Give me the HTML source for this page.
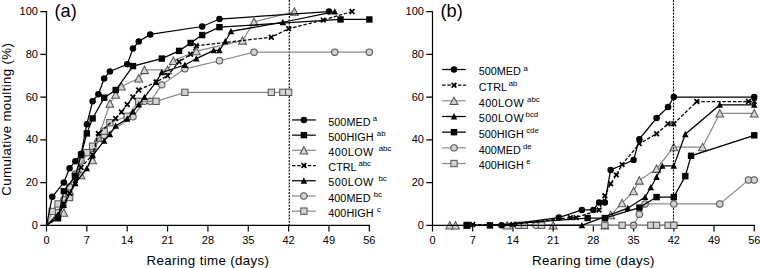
<!DOCTYPE html>
<html lang="en">
<head>
<meta charset="utf-8">
<title>Cumulative moulting</title>
<style>
html,body{margin:0;padding:0;background:#fff;}
body{width:760px;height:268px;overflow:hidden;}
svg{display:block;}
text{font-family:"Liberation Sans", Arial, Helvetica, sans-serif;fill:#000;font-kerning:none;}
.tk{font-size:11px;}
.ax{font-size:13.3px;letter-spacing:0.35px;}
.pl{font-size:18.2px;}
.lg{font-size:10.85px;}
.sp{font-size:7.8px;}
</style>
</head>
<body>
<svg width="760" height="268" viewBox="0 0 760 268">
<rect width="760" height="268" fill="#fff"/>
<polyline fill="none" stroke="#8a8a8a" stroke-width="1.2" points="46.5,225.3 63.8,212.48 69.56,191.1 81.09,175.07 92.62,160.11 98.38,137.66 109.91,103.46 115.68,94.48 121.44,86.36 138.74,78.24 144.5,69.9 167.56,69.9 173.33,60.71 196.39,51.09 242.51,40.62 254.04,21.81 294.39,11.55"/>
<path d="M63.8 208.78L67.7 216.18L59.9 216.18Z" fill="#d2d2d2" stroke="#565656" stroke-width="1.05" stroke-linejoin="miter"/>
<path d="M69.56 187.4L73.46 194.8L65.66 194.8Z" fill="#d2d2d2" stroke="#565656" stroke-width="1.05" stroke-linejoin="miter"/>
<path d="M81.09 171.37L84.99 178.77L77.19 178.77Z" fill="#d2d2d2" stroke="#565656" stroke-width="1.05" stroke-linejoin="miter"/>
<path d="M92.62 156.41L96.52 163.81L88.72 163.81Z" fill="#d2d2d2" stroke="#565656" stroke-width="1.05" stroke-linejoin="miter"/>
<path d="M98.38 133.96L102.28 141.36L94.48 141.36Z" fill="#d2d2d2" stroke="#565656" stroke-width="1.05" stroke-linejoin="miter"/>
<path d="M109.91 99.76L113.81 107.16L106.01 107.16Z" fill="#d2d2d2" stroke="#565656" stroke-width="1.05" stroke-linejoin="miter"/>
<path d="M115.68 90.78L119.58 98.18L111.78 98.18Z" fill="#d2d2d2" stroke="#565656" stroke-width="1.05" stroke-linejoin="miter"/>
<path d="M121.44 82.66L125.34 90.06L117.54 90.06Z" fill="#d2d2d2" stroke="#565656" stroke-width="1.05" stroke-linejoin="miter"/>
<path d="M138.74 74.54L142.64 81.94L134.84 81.94Z" fill="#d2d2d2" stroke="#565656" stroke-width="1.05" stroke-linejoin="miter"/>
<path d="M144.5 66.2L148.41 73.6L140.6 73.6Z" fill="#d2d2d2" stroke="#565656" stroke-width="1.05" stroke-linejoin="miter"/>
<path d="M167.56 66.2L171.47 73.6L163.66 73.6Z" fill="#d2d2d2" stroke="#565656" stroke-width="1.05" stroke-linejoin="miter"/>
<path d="M173.33 57.01L177.23 64.41L169.43 64.41Z" fill="#d2d2d2" stroke="#565656" stroke-width="1.05" stroke-linejoin="miter"/>
<path d="M196.39 47.39L200.29 54.79L192.49 54.79Z" fill="#d2d2d2" stroke="#565656" stroke-width="1.05" stroke-linejoin="miter"/>
<path d="M242.51 36.92L246.41 44.32L238.61 44.32Z" fill="#d2d2d2" stroke="#565656" stroke-width="1.05" stroke-linejoin="miter"/>
<path d="M254.04 18.11L257.94 25.51L250.14 25.51Z" fill="#d2d2d2" stroke="#565656" stroke-width="1.05" stroke-linejoin="miter"/>
<path d="M294.39 7.85L298.29 15.25L290.5 15.25Z" fill="#d2d2d2" stroke="#565656" stroke-width="1.05" stroke-linejoin="miter"/>
<path d="M46.5 10.95V225.3H369.94" fill="none" stroke="#000" stroke-width="1.2"/>
<text x="37.9" y="228.9" text-anchor="end" class="tk">0</text>
<text x="37.9" y="186.15" text-anchor="end" class="tk">20</text>
<text x="37.9" y="143.4" text-anchor="end" class="tk">40</text>
<text x="37.9" y="100.65" text-anchor="end" class="tk">60</text>
<text x="37.9" y="57.9" text-anchor="end" class="tk">80</text>
<text x="37.9" y="15.15" text-anchor="end" class="tk">100</text>
<text x="46.5" y="243.9" text-anchor="middle" class="tk">0</text>
<text x="86.85" y="243.9" text-anchor="middle" class="tk">7</text>
<text x="127.21" y="243.9" text-anchor="middle" class="tk">14</text>
<text x="167.56" y="243.9" text-anchor="middle" class="tk">21</text>
<text x="207.92" y="243.9" text-anchor="middle" class="tk">28</text>
<text x="248.27" y="243.9" text-anchor="middle" class="tk">35</text>
<text x="288.63" y="243.9" text-anchor="middle" class="tk">42</text>
<text x="328.98" y="243.9" text-anchor="middle" class="tk">49</text>
<text x="369.34" y="243.9" text-anchor="middle" class="tk">56</text>
<path d="M40.3 225.3H46.5M40.3 182.55H46.5M40.3 139.8H46.5M40.3 97.05H46.5M40.3 54.3H46.5M40.3 11.55H46.5M46.5 225.3V231.5M86.85 225.3V231.5M127.21 225.3V231.5M167.56 225.3V231.5M207.92 225.3V231.5M248.27 225.3V231.5M288.63 225.3V231.5M328.98 225.3V231.5M369.34 225.3V231.5" stroke="#000" stroke-width="1.2" fill="none"/>
<path d="M289.28 0V225.3" stroke="#000" stroke-width="1.15" stroke-dasharray="2 1.2" fill="none"/>
<text x="207.92" y="265" text-anchor="middle" class="ax">Rearing time (days)</text>
<text x="54.5" y="17.2" class="pl">(a)</text>
<text transform="translate(10.5 119.2) rotate(-90)" text-anchor="middle" class="ax">Cumulative moulting (%)</text>
<polyline fill="none" stroke="#8a8a8a" stroke-width="1.2" points="46.5,225.3 58.03,212.48 63.8,199.65 69.56,186.83 75.33,174 81.09,161.18 92.62,148.35 104.15,135.53 132.97,116.72 144.5,101.33 150.27,101.33 161.8,84.87 184.86,68.83 219.45,60.71 254.04,52.16 334.75,52.16 369.34,52.16"/>
<circle cx="58.03" cy="212.48" r="3.2" fill="#d2d2d2" stroke="#565656" stroke-width="1.05"/>
<circle cx="63.8" cy="199.65" r="3.2" fill="#d2d2d2" stroke="#565656" stroke-width="1.05"/>
<circle cx="69.56" cy="186.83" r="3.2" fill="#d2d2d2" stroke="#565656" stroke-width="1.05"/>
<circle cx="75.33" cy="174" r="3.2" fill="#d2d2d2" stroke="#565656" stroke-width="1.05"/>
<circle cx="81.09" cy="161.18" r="3.2" fill="#d2d2d2" stroke="#565656" stroke-width="1.05"/>
<circle cx="92.62" cy="148.35" r="3.2" fill="#d2d2d2" stroke="#565656" stroke-width="1.05"/>
<circle cx="104.15" cy="135.53" r="3.2" fill="#d2d2d2" stroke="#565656" stroke-width="1.05"/>
<circle cx="132.97" cy="116.72" r="3.2" fill="#d2d2d2" stroke="#565656" stroke-width="1.05"/>
<circle cx="144.5" cy="101.33" r="3.2" fill="#d2d2d2" stroke="#565656" stroke-width="1.05"/>
<circle cx="150.27" cy="101.33" r="3.2" fill="#d2d2d2" stroke="#565656" stroke-width="1.05"/>
<circle cx="161.8" cy="84.87" r="3.2" fill="#d2d2d2" stroke="#565656" stroke-width="1.05"/>
<circle cx="184.86" cy="68.83" r="3.2" fill="#d2d2d2" stroke="#565656" stroke-width="1.05"/>
<circle cx="219.45" cy="60.71" r="3.2" fill="#d2d2d2" stroke="#565656" stroke-width="1.05"/>
<circle cx="254.04" cy="52.16" r="3.2" fill="#d2d2d2" stroke="#565656" stroke-width="1.05"/>
<circle cx="334.75" cy="52.16" r="3.2" fill="#d2d2d2" stroke="#565656" stroke-width="1.05"/>
<circle cx="369.34" cy="52.16" r="3.2" fill="#d2d2d2" stroke="#565656" stroke-width="1.05"/>
<polyline fill="none" stroke="#8a8a8a" stroke-width="1.2" points="46.5,225.3 52.27,211.41 58.03,203.93 69.56,197.51 75.33,176.14 86.85,152.62 92.62,146.21 104.15,131.25 109.91,122.7 127.21,116.29 138.74,101.33 156.03,101.33 184.86,92.35 271.33,92.35 282.87,92.35 288.63,92.35"/>
<rect x="49.12" y="208.26" width="6.3" height="6.3" fill="#d2d2d2" stroke="#565656" stroke-width="1.05"/>
<rect x="54.88" y="200.78" width="6.3" height="6.3" fill="#d2d2d2" stroke="#565656" stroke-width="1.05"/>
<rect x="66.41" y="194.36" width="6.3" height="6.3" fill="#d2d2d2" stroke="#565656" stroke-width="1.05"/>
<rect x="72.17" y="172.99" width="6.3" height="6.3" fill="#d2d2d2" stroke="#565656" stroke-width="1.05"/>
<rect x="83.7" y="149.47" width="6.3" height="6.3" fill="#d2d2d2" stroke="#565656" stroke-width="1.05"/>
<rect x="89.47" y="143.06" width="6.3" height="6.3" fill="#d2d2d2" stroke="#565656" stroke-width="1.05"/>
<rect x="101" y="128.1" width="6.3" height="6.3" fill="#d2d2d2" stroke="#565656" stroke-width="1.05"/>
<rect x="106.76" y="119.55" width="6.3" height="6.3" fill="#d2d2d2" stroke="#565656" stroke-width="1.05"/>
<rect x="124.06" y="113.14" width="6.3" height="6.3" fill="#d2d2d2" stroke="#565656" stroke-width="1.05"/>
<rect x="135.59" y="98.17" width="6.3" height="6.3" fill="#d2d2d2" stroke="#565656" stroke-width="1.05"/>
<rect x="152.88" y="98.17" width="6.3" height="6.3" fill="#d2d2d2" stroke="#565656" stroke-width="1.05"/>
<rect x="181.71" y="89.2" width="6.3" height="6.3" fill="#d2d2d2" stroke="#565656" stroke-width="1.05"/>
<rect x="268.19" y="89.2" width="6.3" height="6.3" fill="#d2d2d2" stroke="#565656" stroke-width="1.05"/>
<rect x="279.72" y="89.2" width="6.3" height="6.3" fill="#d2d2d2" stroke="#565656" stroke-width="1.05"/>
<rect x="285.48" y="89.2" width="6.3" height="6.3" fill="#d2d2d2" stroke="#565656" stroke-width="1.05"/>
<polyline fill="none" stroke="#000" stroke-width="1.25" stroke-dasharray="3.5 1.75" points="46.5,225.3 58.03,216.75 63.8,203.93 69.56,193.24 75.33,180.41 81.09,167.59 92.62,154.76 98.38,133.39 115.68,118.42 121.44,112.01 127.21,104.53 132.97,97.05 138.74,90 156.03,82.09 167.56,75.68 179.09,61.78 190.62,54.3 196.39,45.75 271.33,37.2 288.63,28.65 323.22,20.1 352.04,11.55"/>
<path d="M55.68 214.4L60.38 219.1M55.68 219.1L60.38 214.4" stroke="#000" stroke-width="1.75" fill="none"/>
<path d="M61.45 201.58L66.14 206.28M61.45 206.28L66.14 201.58" stroke="#000" stroke-width="1.75" fill="none"/>
<path d="M67.21 190.89L71.91 195.59M67.21 195.59L71.91 190.89" stroke="#000" stroke-width="1.75" fill="none"/>
<path d="M72.98 178.06L77.67 182.76M72.98 182.76L77.67 178.06" stroke="#000" stroke-width="1.75" fill="none"/>
<path d="M78.74 165.24L83.44 169.94M78.74 169.94L83.44 165.24" stroke="#000" stroke-width="1.75" fill="none"/>
<path d="M90.27 152.41L94.97 157.11M90.27 157.11L94.97 152.41" stroke="#000" stroke-width="1.75" fill="none"/>
<path d="M96.03 131.04L100.73 135.74M96.03 135.74L100.73 131.04" stroke="#000" stroke-width="1.75" fill="none"/>
<path d="M113.33 116.08L118.03 120.77M113.33 120.77L118.03 116.08" stroke="#000" stroke-width="1.75" fill="none"/>
<path d="M119.09 109.66L123.79 114.36M119.09 114.36L123.79 109.66" stroke="#000" stroke-width="1.75" fill="none"/>
<path d="M124.86 102.18L129.56 106.88M124.86 106.88L129.56 102.18" stroke="#000" stroke-width="1.75" fill="none"/>
<path d="M130.62 94.7L135.32 99.4M130.62 99.4L135.32 94.7" stroke="#000" stroke-width="1.75" fill="none"/>
<path d="M136.39 87.65L141.09 92.35M136.39 92.35L141.09 87.65" stroke="#000" stroke-width="1.75" fill="none"/>
<path d="M153.69 79.74L158.38 84.44M153.69 84.44L158.38 79.74" stroke="#000" stroke-width="1.75" fill="none"/>
<path d="M165.22 73.33L169.91 78.03M165.22 78.03L169.91 73.33" stroke="#000" stroke-width="1.75" fill="none"/>
<path d="M176.75 59.43L181.44 64.13M176.75 64.13L181.44 59.43" stroke="#000" stroke-width="1.75" fill="none"/>
<path d="M188.28 51.95L192.97 56.65M188.28 56.65L192.97 51.95" stroke="#000" stroke-width="1.75" fill="none"/>
<path d="M194.04 43.4L198.74 48.1M194.04 48.1L198.74 43.4" stroke="#000" stroke-width="1.75" fill="none"/>
<path d="M268.98 34.85L273.69 39.55M268.98 39.55L273.69 34.85" stroke="#000" stroke-width="1.75" fill="none"/>
<path d="M286.28 26.3L290.98 31M286.28 31L290.98 26.3" stroke="#000" stroke-width="1.75" fill="none"/>
<path d="M320.87 17.75L325.57 22.45M320.87 22.45L325.57 17.75" stroke="#000" stroke-width="1.75" fill="none"/>
<path d="M349.69 9.2L354.39 13.9M349.69 13.9L354.39 9.2" stroke="#000" stroke-width="1.75" fill="none"/>
<polyline fill="none" stroke="#000" stroke-width="1.25" points="46.5,225.3 58.03,218.25 63.8,191.1 75.33,176.14 81.09,154.76 86.85,133.39 92.62,118.42 104.15,97.69 115.68,90 132.97,66.06 161.8,58.57 179.09,50.88 190.62,42.97 202.16,35.06 219.45,27.15 340.51,19.46 369.34,19.46"/>
<rect x="54.83" y="215.05" width="6.4" height="6.4" fill="#000"/>
<rect x="60.59" y="187.9" width="6.4" height="6.4" fill="#000"/>
<rect x="72.12" y="172.94" width="6.4" height="6.4" fill="#000"/>
<rect x="77.89" y="151.56" width="6.4" height="6.4" fill="#000"/>
<rect x="83.65" y="130.19" width="6.4" height="6.4" fill="#000"/>
<rect x="89.42" y="115.22" width="6.4" height="6.4" fill="#000"/>
<rect x="100.95" y="94.49" width="6.4" height="6.4" fill="#000"/>
<rect x="112.48" y="86.8" width="6.4" height="6.4" fill="#000"/>
<rect x="129.78" y="62.86" width="6.4" height="6.4" fill="#000"/>
<rect x="158.6" y="55.37" width="6.4" height="6.4" fill="#000"/>
<rect x="175.9" y="47.68" width="6.4" height="6.4" fill="#000"/>
<rect x="187.43" y="39.77" width="6.4" height="6.4" fill="#000"/>
<rect x="198.96" y="31.86" width="6.4" height="6.4" fill="#000"/>
<rect x="216.25" y="23.95" width="6.4" height="6.4" fill="#000"/>
<rect x="337.31" y="16.26" width="6.4" height="6.4" fill="#000"/>
<rect x="366.14" y="16.26" width="6.4" height="6.4" fill="#000"/>
<polyline fill="none" stroke="#000" stroke-width="1.25" points="46.5,225.3 58.03,214.61 63.8,204.99 75.33,183.41 86.85,168.44 92.62,155.62 104.15,140.87 109.91,134.24 115.68,125.91 127.21,118.85 132.97,111.58 138.74,104.53 144.5,97.05 156.03,82.09 161.8,72.47 184.86,64.99 196.39,58.57 213.69,50.45 219.45,50.45 225.22,41.47 230.98,31.43 282.87,22.24 334.75,11.55"/>
<path d="M58.03 211.21L61.28 217.51L54.78 217.51Z" fill="#000"/>
<path d="M63.8 201.59L67.05 207.89L60.55 207.89Z" fill="#000"/>
<path d="M75.33 180L78.58 186.31L72.08 186.31Z" fill="#000"/>
<path d="M86.85 165.04L90.1 171.34L83.6 171.34Z" fill="#000"/>
<path d="M92.62 152.22L95.87 158.52L89.37 158.52Z" fill="#000"/>
<path d="M104.15 137.47L107.4 143.77L100.9 143.77Z" fill="#000"/>
<path d="M109.91 130.84L113.16 137.14L106.66 137.14Z" fill="#000"/>
<path d="M115.68 122.51L118.93 128.81L112.43 128.81Z" fill="#000"/>
<path d="M127.21 115.45L130.46 121.75L123.96 121.75Z" fill="#000"/>
<path d="M132.97 108.18L136.22 114.48L129.72 114.48Z" fill="#000"/>
<path d="M138.74 101.13L141.99 107.43L135.49 107.43Z" fill="#000"/>
<path d="M144.5 93.65L147.75 99.95L141.25 99.95Z" fill="#000"/>
<path d="M156.03 78.69L159.28 84.99L152.78 84.99Z" fill="#000"/>
<path d="M161.8 69.07L165.05 75.37L158.55 75.37Z" fill="#000"/>
<path d="M184.86 61.59L188.11 67.89L181.61 67.89Z" fill="#000"/>
<path d="M196.39 55.17L199.64 61.47L193.14 61.47Z" fill="#000"/>
<path d="M213.69 47.05L216.94 53.35L210.44 53.35Z" fill="#000"/>
<path d="M219.45 47.05L222.7 53.35L216.2 53.35Z" fill="#000"/>
<path d="M225.22 38.07L228.47 44.37L221.97 44.37Z" fill="#000"/>
<path d="M230.98 28.03L234.23 34.33L227.73 34.33Z" fill="#000"/>
<path d="M282.87 18.84L286.12 25.14L279.62 25.14Z" fill="#000"/>
<path d="M334.75 8.15L338 14.45L331.5 14.45Z" fill="#000"/>
<polyline fill="none" stroke="#000" stroke-width="1.25" points="46.5,225.3 52.27,196.87 63.8,182.55 69.56,168.23 75.33,161.18 81.09,154.12 86.85,124.2 92.62,101.33 98.38,94.27 104.15,78.45 109.91,71.4 127.21,64.35 132.97,48.53 138.74,41.47 150.27,34.42 202.16,26.51 219.45,19.03 328.98,11.55"/>
<circle cx="52.27" cy="196.87" r="3.25" fill="#000"/>
<circle cx="63.8" cy="182.55" r="3.25" fill="#000"/>
<circle cx="69.56" cy="168.23" r="3.25" fill="#000"/>
<circle cx="75.33" cy="161.18" r="3.25" fill="#000"/>
<circle cx="81.09" cy="154.12" r="3.25" fill="#000"/>
<circle cx="86.85" cy="124.2" r="3.25" fill="#000"/>
<circle cx="92.62" cy="101.33" r="3.25" fill="#000"/>
<circle cx="98.38" cy="94.27" r="3.25" fill="#000"/>
<circle cx="104.15" cy="78.45" r="3.25" fill="#000"/>
<circle cx="109.91" cy="71.4" r="3.25" fill="#000"/>
<circle cx="127.21" cy="64.35" r="3.25" fill="#000"/>
<circle cx="132.97" cy="48.53" r="3.25" fill="#000"/>
<circle cx="138.74" cy="41.47" r="3.25" fill="#000"/>
<circle cx="150.27" cy="34.42" r="3.25" fill="#000"/>
<circle cx="202.16" cy="26.51" r="3.25" fill="#000"/>
<circle cx="219.45" cy="19.03" r="3.25" fill="#000"/>
<circle cx="328.98" cy="11.55" r="3.25" fill="#000"/>
<path d="M292 119.95H315.8" stroke="#000" stroke-width="1.25" fill="none"/>
<circle cx="303.9" cy="119.95" r="3.25" fill="#000"/>
<text x="328.3" y="125.65" class="lg">500MED</text>
<text x="372.7" y="121.25" class="sp">a</text>
<path d="M292 135.15H315.8" stroke="#000" stroke-width="1.25" fill="none"/>
<rect x="300.7" y="131.95" width="6.4" height="6.4" fill="#000"/>
<text x="328.3" y="140.85" class="lg">500HIGH</text>
<text x="376.8" y="135.85" class="sp">ab</text>
<path d="M292 150.35H315.8" stroke="#8a8a8a" stroke-width="1.2" fill="none"/>
<path d="M303.9 146.65L307.8 154.05L300 154.05Z" fill="#d2d2d2" stroke="#565656" stroke-width="1.05" stroke-linejoin="miter"/>
<text x="328.3" y="156.05" class="lg" letter-spacing="0.43">400LOW</text>
<text x="378.7" y="151.05" class="sp">abc</text>
<path d="M292 165.55H315.8" stroke="#000" stroke-width="1.25" stroke-dasharray="3.5 1.75" fill="none"/>
<path d="M301.55 163.2L306.25 167.9M301.55 167.9L306.25 163.2" stroke="#000" stroke-width="1.75" fill="none"/>
<text x="328.3" y="171.25" class="lg">CTRL</text>
<text x="358.4" y="166.25" class="sp">abc</text>
<path d="M292 180.75H315.8" stroke="#000" stroke-width="1.25" fill="none"/>
<path d="M303.9 177.35L307.15 183.65L300.65 183.65Z" fill="#000"/>
<text x="328.3" y="186.45" class="lg" letter-spacing="0.43">500LOW</text>
<text x="378.4" y="181.45" class="sp">bc</text>
<path d="M292 195.95H315.8" stroke="#8a8a8a" stroke-width="1.2" fill="none"/>
<circle cx="303.9" cy="195.95" r="3.2" fill="#d2d2d2" stroke="#565656" stroke-width="1.05"/>
<text x="328.3" y="201.65" class="lg">400MED</text>
<text x="373.7" y="196.65" class="sp">bc</text>
<path d="M292 211.15H315.8" stroke="#8a8a8a" stroke-width="1.2" fill="none"/>
<rect x="300.75" y="208" width="6.3" height="6.3" fill="#d2d2d2" stroke="#565656" stroke-width="1.05"/>
<text x="328.3" y="216.85" class="lg">400HIGH</text>
<text x="377.1" y="211.85" class="sp">c</text>
<polyline fill="none" stroke="#8a8a8a" stroke-width="1.2" points="449.74,225.3 455.48,225.3 507.19,225.3 553.16,225.3 604.87,225.3 610.61,215.04 622.1,203.07 633.59,191.1 639.34,180.41 656.57,168.66 673.81,147.07 702.54,147.07 719.77,113.3 754.25,113.3"/>
<path d="M449.74 221.6L453.64 229L445.84 229Z" fill="#d2d2d2" stroke="#565656" stroke-width="1.05" stroke-linejoin="miter"/>
<path d="M455.48 221.6L459.38 229L451.58 229Z" fill="#d2d2d2" stroke="#565656" stroke-width="1.05" stroke-linejoin="miter"/>
<path d="M507.19 221.6L511.09 229L503.29 229Z" fill="#d2d2d2" stroke="#565656" stroke-width="1.05" stroke-linejoin="miter"/>
<path d="M553.16 221.6L557.06 229L549.26 229Z" fill="#d2d2d2" stroke="#565656" stroke-width="1.05" stroke-linejoin="miter"/>
<path d="M604.87 221.6L608.76 229L600.97 229Z" fill="#d2d2d2" stroke="#565656" stroke-width="1.05" stroke-linejoin="miter"/>
<path d="M610.61 211.34L614.51 218.74L606.71 218.74Z" fill="#d2d2d2" stroke="#565656" stroke-width="1.05" stroke-linejoin="miter"/>
<path d="M622.1 199.37L626 206.77L618.2 206.77Z" fill="#d2d2d2" stroke="#565656" stroke-width="1.05" stroke-linejoin="miter"/>
<path d="M633.59 187.4L637.49 194.8L629.69 194.8Z" fill="#d2d2d2" stroke="#565656" stroke-width="1.05" stroke-linejoin="miter"/>
<path d="M639.34 176.71L643.24 184.11L635.44 184.11Z" fill="#d2d2d2" stroke="#565656" stroke-width="1.05" stroke-linejoin="miter"/>
<path d="M656.57 164.96L660.47 172.36L652.67 172.36Z" fill="#d2d2d2" stroke="#565656" stroke-width="1.05" stroke-linejoin="miter"/>
<path d="M673.81 143.37L677.71 150.77L669.91 150.77Z" fill="#d2d2d2" stroke="#565656" stroke-width="1.05" stroke-linejoin="miter"/>
<path d="M702.54 143.37L706.44 150.77L698.64 150.77Z" fill="#d2d2d2" stroke="#565656" stroke-width="1.05" stroke-linejoin="miter"/>
<path d="M719.77 109.59L723.67 117L715.88 117Z" fill="#d2d2d2" stroke="#565656" stroke-width="1.05" stroke-linejoin="miter"/>
<path d="M754.25 109.59L758.15 117L750.35 117Z" fill="#d2d2d2" stroke="#565656" stroke-width="1.05" stroke-linejoin="miter"/>
<path d="M432.5 10.95V225.3H754.85" fill="none" stroke="#000" stroke-width="1.2"/>
<text x="423.9" y="228.9" text-anchor="end" class="tk">0</text>
<text x="423.9" y="186.15" text-anchor="end" class="tk">20</text>
<text x="423.9" y="143.4" text-anchor="end" class="tk">40</text>
<text x="423.9" y="100.65" text-anchor="end" class="tk">60</text>
<text x="423.9" y="57.9" text-anchor="end" class="tk">80</text>
<text x="423.9" y="15.15" text-anchor="end" class="tk">100</text>
<text x="432.5" y="243.9" text-anchor="middle" class="tk">0</text>
<text x="472.72" y="243.9" text-anchor="middle" class="tk">7</text>
<text x="512.94" y="243.9" text-anchor="middle" class="tk">14</text>
<text x="553.16" y="243.9" text-anchor="middle" class="tk">21</text>
<text x="593.37" y="243.9" text-anchor="middle" class="tk">28</text>
<text x="633.59" y="243.9" text-anchor="middle" class="tk">35</text>
<text x="673.81" y="243.9" text-anchor="middle" class="tk">42</text>
<text x="714.03" y="243.9" text-anchor="middle" class="tk">49</text>
<text x="754.25" y="243.9" text-anchor="middle" class="tk">56</text>
<path d="M426.3 225.3H432.5M426.3 182.55H432.5M426.3 139.8H432.5M426.3 97.05H432.5M426.3 54.3H432.5M426.3 11.55H432.5M432.5 225.3V231.5M472.72 225.3V231.5M512.94 225.3V231.5M553.16 225.3V231.5M593.37 225.3V231.5M633.59 225.3V231.5M673.81 225.3V231.5M714.03 225.3V231.5M754.25 225.3V231.5" stroke="#000" stroke-width="1.2" fill="none"/>
<path d="M673.51 0V225.3" stroke="#000" stroke-width="1.15" stroke-dasharray="2 1.2" fill="none"/>
<text x="593.37" y="265" text-anchor="middle" class="ax">Rearing time (days)</text>
<text x="440.5" y="17.2" class="pl">(b)</text>
<polyline fill="none" stroke="#8a8a8a" stroke-width="1.2" points="535.92,225.3 633.59,225.3 639.34,214.19 645.08,203.93 673.81,203.93 719.77,203.93 748.5,179.99 754.25,179.99"/>
<circle cx="535.92" cy="225.3" r="3.2" fill="#d2d2d2" stroke="#565656" stroke-width="1.05"/>
<circle cx="633.59" cy="225.3" r="3.2" fill="#d2d2d2" stroke="#565656" stroke-width="1.05"/>
<circle cx="639.34" cy="214.19" r="3.2" fill="#d2d2d2" stroke="#565656" stroke-width="1.05"/>
<circle cx="645.08" cy="203.93" r="3.2" fill="#d2d2d2" stroke="#565656" stroke-width="1.05"/>
<circle cx="673.81" cy="203.93" r="3.2" fill="#d2d2d2" stroke="#565656" stroke-width="1.05"/>
<circle cx="719.77" cy="203.93" r="3.2" fill="#d2d2d2" stroke="#565656" stroke-width="1.05"/>
<circle cx="748.5" cy="179.99" r="3.2" fill="#d2d2d2" stroke="#565656" stroke-width="1.05"/>
<circle cx="754.25" cy="179.99" r="3.2" fill="#d2d2d2" stroke="#565656" stroke-width="1.05"/>
<polyline fill="none" stroke="#8a8a8a" stroke-width="1.2" points="466.97,225.3 518.68,225.3 524.43,225.3 541.66,225.3 604.87,225.3 622.1,225.3 650.83,225.3 656.57,225.3 668.07,225.3 673.81,225.3"/>
<rect x="463.82" y="222.15" width="6.3" height="6.3" fill="#d2d2d2" stroke="#565656" stroke-width="1.05"/>
<rect x="515.53" y="222.15" width="6.3" height="6.3" fill="#d2d2d2" stroke="#565656" stroke-width="1.05"/>
<rect x="521.28" y="222.15" width="6.3" height="6.3" fill="#d2d2d2" stroke="#565656" stroke-width="1.05"/>
<rect x="538.51" y="222.15" width="6.3" height="6.3" fill="#d2d2d2" stroke="#565656" stroke-width="1.05"/>
<rect x="601.72" y="222.15" width="6.3" height="6.3" fill="#d2d2d2" stroke="#565656" stroke-width="1.05"/>
<rect x="618.95" y="222.15" width="6.3" height="6.3" fill="#d2d2d2" stroke="#565656" stroke-width="1.05"/>
<rect x="647.68" y="222.15" width="6.3" height="6.3" fill="#d2d2d2" stroke="#565656" stroke-width="1.05"/>
<rect x="653.42" y="222.15" width="6.3" height="6.3" fill="#d2d2d2" stroke="#565656" stroke-width="1.05"/>
<rect x="664.92" y="222.15" width="6.3" height="6.3" fill="#d2d2d2" stroke="#565656" stroke-width="1.05"/>
<rect x="670.66" y="222.15" width="6.3" height="6.3" fill="#d2d2d2" stroke="#565656" stroke-width="1.05"/>
<polyline fill="none" stroke="#000" stroke-width="1.25" stroke-dasharray="3.5 1.75" points="472.72,224.55 512.94,224.55 570.39,217.61 576.14,217.61 599.12,209.91 604.87,195.8 610.61,183.83 616.36,174.86 622.1,164.59 639.34,143.65 656.57,133.81 668.07,123.77 673.81,123.77 696.79,101.54 748.5,101.54 754.25,101.54"/>
<path d="M470.37 222.2L475.07 226.9M470.37 226.9L475.07 222.2" stroke="#000" stroke-width="1.75" fill="none"/>
<path d="M510.59 222.2L515.29 226.9M510.59 226.9L515.29 222.2" stroke="#000" stroke-width="1.75" fill="none"/>
<path d="M568.04 215.26L572.74 219.96M568.04 219.96L572.74 215.26" stroke="#000" stroke-width="1.75" fill="none"/>
<path d="M573.79 215.26L578.49 219.96M573.79 219.96L578.49 215.26" stroke="#000" stroke-width="1.75" fill="none"/>
<path d="M596.77 207.56L601.47 212.26M596.77 212.26L601.47 207.56" stroke="#000" stroke-width="1.75" fill="none"/>
<path d="M602.51 193.45L607.22 198.15M602.51 198.15L607.22 193.45" stroke="#000" stroke-width="1.75" fill="none"/>
<path d="M608.26 181.48L612.96 186.18M608.26 186.18L612.96 181.48" stroke="#000" stroke-width="1.75" fill="none"/>
<path d="M614.01 172.51L618.71 177.21M614.01 177.21L618.71 172.51" stroke="#000" stroke-width="1.75" fill="none"/>
<path d="M619.75 162.25L624.45 166.94M619.75 166.94L624.45 162.25" stroke="#000" stroke-width="1.75" fill="none"/>
<path d="M636.99 141.3L641.69 146M636.99 146L641.69 141.3" stroke="#000" stroke-width="1.75" fill="none"/>
<path d="M654.22 131.47L658.92 136.16M654.22 136.16L658.92 131.47" stroke="#000" stroke-width="1.75" fill="none"/>
<path d="M665.72 121.42L670.42 126.12M665.72 126.12L670.42 121.42" stroke="#000" stroke-width="1.75" fill="none"/>
<path d="M671.46 121.42L676.16 126.12M671.46 126.12L676.16 121.42" stroke="#000" stroke-width="1.75" fill="none"/>
<path d="M694.44 99.19L699.14 103.89M694.44 103.89L699.14 99.19" stroke="#000" stroke-width="1.75" fill="none"/>
<path d="M746.15 99.19L750.85 103.89M746.15 103.89L750.85 99.19" stroke="#000" stroke-width="1.75" fill="none"/>
<path d="M751.9 99.19L756.6 103.89M751.9 103.89L756.6 99.19" stroke="#000" stroke-width="1.75" fill="none"/>
<polyline fill="none" stroke="#000" stroke-width="1.25" points="466.97,225.3 489.95,225.3 587.63,218.03 604.87,218.03 639.34,207.56 656.57,197.09 673.81,197.09 685.3,176.14 691.05,155.83 754.25,135.31"/>
<rect x="463.77" y="222.1" width="6.4" height="6.4" fill="#000"/>
<rect x="486.75" y="222.1" width="6.4" height="6.4" fill="#000"/>
<rect x="584.43" y="214.83" width="6.4" height="6.4" fill="#000"/>
<rect x="601.66" y="214.83" width="6.4" height="6.4" fill="#000"/>
<rect x="636.14" y="204.36" width="6.4" height="6.4" fill="#000"/>
<rect x="653.37" y="193.89" width="6.4" height="6.4" fill="#000"/>
<rect x="670.61" y="193.89" width="6.4" height="6.4" fill="#000"/>
<rect x="682.1" y="172.94" width="6.4" height="6.4" fill="#000"/>
<rect x="687.85" y="152.63" width="6.4" height="6.4" fill="#000"/>
<rect x="751.05" y="132.11" width="6.4" height="6.4" fill="#000"/>
<polyline fill="none" stroke="#000" stroke-width="1.25" points="489.95,225.3 581.88,225.3 627.85,208.2 645.08,197.09 650.83,187.47 656.57,176.99 662.32,165.88 673.81,165.88 685.3,134.24 719.77,104.96 754.25,104.96"/>
<path d="M489.95 221.9L493.2 228.2L486.7 228.2Z" fill="#000"/>
<path d="M581.88 221.9L585.13 228.2L578.63 228.2Z" fill="#000"/>
<path d="M627.85 204.8L631.1 211.1L624.6 211.1Z" fill="#000"/>
<path d="M645.08 193.69L648.33 199.99L641.83 199.99Z" fill="#000"/>
<path d="M650.83 184.07L654.08 190.37L647.58 190.37Z" fill="#000"/>
<path d="M656.57 173.59L659.82 179.89L653.32 179.89Z" fill="#000"/>
<path d="M662.32 162.48L665.57 168.78L659.07 168.78Z" fill="#000"/>
<path d="M673.81 162.48L677.06 168.78L670.56 168.78Z" fill="#000"/>
<path d="M685.3 130.84L688.55 137.14L682.05 137.14Z" fill="#000"/>
<path d="M719.77 101.56L723.02 107.86L716.52 107.86Z" fill="#000"/>
<path d="M754.25 101.56L757.5 107.86L751 107.86Z" fill="#000"/>
<polyline fill="none" stroke="#000" stroke-width="1.25" points="466.97,225.3 501.45,225.3 558.9,217.61 581.88,209.91 593.37,209.91 599.12,202.43 604.87,202.43 610.61,169.94 633.59,160.11 639.34,139.16 656.57,118 668.07,107.1 673.81,97.05 754.25,97.05"/>
<circle cx="466.97" cy="225.3" r="3.25" fill="#000"/>
<circle cx="501.45" cy="225.3" r="3.25" fill="#000"/>
<circle cx="558.9" cy="217.61" r="3.25" fill="#000"/>
<circle cx="581.88" cy="209.91" r="3.25" fill="#000"/>
<circle cx="593.37" cy="209.91" r="3.25" fill="#000"/>
<circle cx="599.12" cy="202.43" r="3.25" fill="#000"/>
<circle cx="604.87" cy="202.43" r="3.25" fill="#000"/>
<circle cx="610.61" cy="169.94" r="3.25" fill="#000"/>
<circle cx="633.59" cy="160.11" r="3.25" fill="#000"/>
<circle cx="639.34" cy="139.16" r="3.25" fill="#000"/>
<circle cx="656.57" cy="118" r="3.25" fill="#000"/>
<circle cx="668.07" cy="107.1" r="3.25" fill="#000"/>
<circle cx="673.81" cy="97.05" r="3.25" fill="#000"/>
<circle cx="754.25" cy="97.05" r="3.25" fill="#000"/>
<path d="M442.1 69.5H465.9" stroke="#000" stroke-width="1.25" fill="none"/>
<circle cx="454" cy="69.5" r="3.25" fill="#000"/>
<text x="478.7" y="75.2" class="lg">500MED</text>
<text x="523.6" y="70.8" class="sp">a</text>
<path d="M442.1 85.17H465.9" stroke="#000" stroke-width="1.25" stroke-dasharray="3.5 1.75" fill="none"/>
<path d="M451.65 82.82L456.35 87.52M451.65 87.52L456.35 82.82" stroke="#000" stroke-width="1.75" fill="none"/>
<text x="478.7" y="90.87" class="lg">CTRL</text>
<text x="508.7" y="85.87" class="sp">ab</text>
<path d="M442.1 100.84H465.9" stroke="#8a8a8a" stroke-width="1.2" fill="none"/>
<path d="M454 97.14L457.9 104.54L450.1 104.54Z" fill="#d2d2d2" stroke="#565656" stroke-width="1.05" stroke-linejoin="miter"/>
<text x="478.7" y="106.54" class="lg" letter-spacing="0.43">400LOW</text>
<text x="527.1" y="101.54" class="sp">abc</text>
<path d="M442.1 116.51H465.9" stroke="#000" stroke-width="1.25" fill="none"/>
<path d="M454 113.11L457.25 119.41L450.75 119.41Z" fill="#000"/>
<text x="478.7" y="122.21" class="lg" letter-spacing="0.43">500LOW</text>
<text x="525.6" y="117.21" class="sp">bcd</text>
<path d="M442.1 132.18H465.9" stroke="#000" stroke-width="1.25" fill="none"/>
<rect x="450.8" y="128.98" width="6.4" height="6.4" fill="#000"/>
<text x="478.7" y="137.88" class="lg">500HIGH</text>
<text x="526.2" y="132.88" class="sp">cde</text>
<path d="M442.1 147.85H465.9" stroke="#8a8a8a" stroke-width="1.2" fill="none"/>
<circle cx="454" cy="147.85" r="3.2" fill="#d2d2d2" stroke="#565656" stroke-width="1.05"/>
<text x="478.7" y="153.55" class="lg">400MED</text>
<text x="522.9" y="148.55" class="sp">de</text>
<path d="M442.1 163.52H465.9" stroke="#8a8a8a" stroke-width="1.2" fill="none"/>
<rect x="450.85" y="160.37" width="6.3" height="6.3" fill="#d2d2d2" stroke="#565656" stroke-width="1.05"/>
<text x="478.7" y="169.22" class="lg">400HIGH</text>
<text x="526.2" y="164.22" class="sp">e</text>
</svg>
</body>
</html>
